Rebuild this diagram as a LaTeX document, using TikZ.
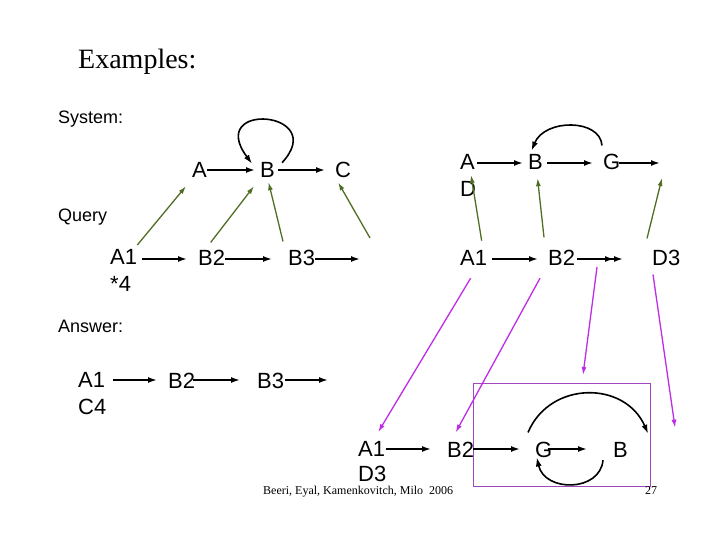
\documentclass[tikz,border=0pt]{standalone}
\usepackage{fontspec}
\setmainfont{Liberation Sans}
\newfontfamily\timesfont{Liberation Serif}
\usetikzlibrary{arrows.meta,calc,positioning}

\definecolor{linkgreen}{RGB}{80,110,35}
\definecolor{mapviolet}{RGB}{190,45,230}
\definecolor{boxpurple}{RGB}{160,70,190}

\begin{document}
\begin{tikzpicture}[x=1pt,y=-1pt,
    lbl/.style={inner sep=0pt, anchor=base west, align=left, font=\fontsize{22}{27.5}\selectfont},
    lbltwo/.style={lbl, anchor=north west},
    head/.style={inner sep=0pt, anchor=base west, font=\fontsize{18}{22}\selectfont},
    foot/.style={inner sep=0pt, anchor=base west, font=\timesfont\fontsize{12}{14}\selectfont},
    flow/.style={-{Latex[length=9pt,width=6pt]}, line width=1.6pt},
    uplink/.style={-{Latex[length=8pt,width=5pt]}, line width=1.3pt, color=linkgreen},
    downlink/.style={-{Latex[length=8pt,width=5pt]}, line width=1.3pt, color=mapviolet}
]
    \useasboundingbox (0,0) rectangle (720,540);

    % Headings
    \node[inner sep=0pt, anchor=base west, font=\timesfont\fontsize{28}{32}\selectfont] (title) at (78,69) {Examples:};
    \node[head] (system) at (58,124) {System:};
    \node[head] (query) at (58,222) {Query};
    \node[head] (answer) at (58,332) {Answer:};

    % System, left
    \node[lbl] (sysA) at (192,178) {A};
    \node[lbl] (sysB) at (260,178) {B};
    \node[lbl] (sysC) at (335,178) {C};
    \draw[flow] ($(sysA.base east)+(0,-8)$) -- ($(sysB.base west)+(-5,-8)$);
    \draw[flow] ($(sysB.base east)+(3,-8)$) -- ($(sysC.base west)+(-10,-8)$);
    \draw[flow] ($(sysB.north east)+(7,0)$) .. controls +(48,-52) and +(-47,-63) .. ($(sysB.north west)+(-8,1)$);

    % System, right
    \node[lbltwo] (sys2A) at (460,154) {A\\D};
    \node[lbl] (sys2B) at (528,170) {B};
    \node[lbl] (sys2G) at (603,170) {G};
    \coordinate (sys2End) at (660,163);
    \draw[flow] ($(sys2A.north east)+(1,9)$) -- ($(sys2B.base west)+(-5,-7)$);
    \draw[flow] ($(sys2B.base east)+(4,-7)$) -- ($(sys2G.base west)+(-10,-7)$);
    \draw[flow] ($(sys2G.base east)+(-2,-7)$) -- (sys2End);
    \draw[flow] ($(sys2G.north west)+(-1,-9)$) .. controls +(-2,-27) and +(13,-32) .. ($(sys2B.north)+(-4,-4)$);

    % Query, left
    \node[lbltwo] (qA1) at (110,249) {A1\\*4};
    \node[lbl] (qB2) at (198,265) {B2};
    \node[lbl] (qB3) at (288,265) {B3};
    \coordinate (qEnd) at (360,259);
    \draw[flow] ($(qA1.north east)+(5,10)$) -- ($(qB2.base west)+(-11,-6)$);
    \draw[flow] ($(qB2.base east)+(0,-6)$) -- ($(qB3.base west)+(-16,-6)$);
    \draw[flow] ($(qB3.base east)+(0,-6)$) -- (qEnd);

    % Query, right
    \node[lbl] (q2A1) at (460,265) {A1};
    \node[lbl] (q2B2) at (548,265) {B2};
    \node[lbl] (q2D3) at (652,265) {D3};
    \coordinate (q2End) at (623,259);
    \draw[flow] ($(q2A1.base east)+(5,-6)$) -- ($(q2B2.base west)+(-10,-6)$);
    \draw[-{Latex[length=9pt,width=6pt]Latex[length=9pt,width=6pt]}, line width=1.6pt] ($(q2B2.base east)+(2,-6)$) -- (q2End);

    % Answer, left
    \node[lbltwo] (ansA1) at (78,372) {A1\\C4};
    \node[lbl] (ansB2) at (168,388) {B2};
    \node[lbl] (ansB3) at (257,388) {B3};
    \coordinate (ansEnd) at (328,380);
    \draw[flow] ($(ansA1.north east)+(6,8)$) -- ($(ansB2.base west)+(-11,-8)$);
    \draw[flow] ($(ansB2.base east)+(-2,-8)$) -- ($(ansB3.base west)+(-17,-8)$);
    \draw[flow] ($(ansB3.base east)+(1,-8)$) -- (ansEnd);

    % Answer, right
    \node[draw=boxpurple, line width=1pt, minimum width=177pt, minimum height=103pt, inner sep=0pt] (resultbox) at (562,435) {};
    \node[lbltwo, font=\fontsize{22}{25}\selectfont] (ans2A1) at (358,441) {A1\\D3};
    \node[lbl] (ans2B2) at (447,457) {B2};
    \node[lbl] (ans2G) at (535,457) {G};
    \node[lbl] (ans2B) at (613,457) {B};
    \draw[flow] ($(ans2A1.north east)+(-1,8)$) -- ($(ans2B2.base west)+(-16,-8)$);
    \draw[flow] ($(ans2B2.base east)+(-1,-8)$) -- ($(ans2G.base west)+(-15,-8)$);
    \draw[flow] ($(ans2G.base east)+(-5,-8)$) -- ($(ans2B.base west)+(-26,-8)$);
    \draw[flow] ($(ans2G.north west)+(-7,-9)$) .. controls +(22,-52) and +(-23,-53) .. ($(ans2B.north east)+(20,-8)$);
    \draw[flow] ($(ans2B.south west)+(-10,3)$) .. controls +(-3,32) and +(8,35) .. ($(ans2G.south)+(-7,0)$);

    % Query to system
    \draw[uplink] ($(qA1.north east)+(0,-4)$) -- ($(sysA.south west)+(-6,8)$);
    \draw[uplink] ($(qB2.north)+(-1,-7)$) -- ($(sysB.south west)+(-6,8)$);
    \draw[uplink] ($(qB3.north west)+(-5,-8)$) -- ($(sysB.south)+(1,4)$);
    \draw[uplink] ($(qEnd)+(10,-21)$) -- ($(sysC.south)+(-5,4)$);
    \draw[uplink] ($(q2A1.north)+(8,-9)$) -- ($(sys2A.north west)+(11,21)$);
    \draw[uplink] ($(q2B2.north west)+(-4,-12)$) -- ($(sys2B.south)+(2,8)$);
    \draw[uplink] ($(q2D3.north west)+(-5,-11)$) -- ($(sys2End)+(2,15)$);

    % Query to answer
    \draw[downlink] ($(q2A1.south)+(-3,13)$) -- ($(ans2A1.north)+(6,-9)$);
    \draw[downlink] ($(q2B2.south west)+(-8,13)$) -- ($(ans2B2.north)+(-5,-9)$);
    \draw[downlink] ($(q2End)+(-26,8)$) -- ($(resultbox.north)+(21,-8)$);
    \draw[downlink] ($(q2D3.south west)+(1,9)$) -- ($(ans2B.north east)+(47,-14)$);

    % Footer
    \node[foot] (credit) at (263,494) {Beeri, Eyal, Kamenkovitch, Milo\ \ 2006};
    \node[foot] (page) at (645,494) {27};
\end{tikzpicture}
\end{document}
